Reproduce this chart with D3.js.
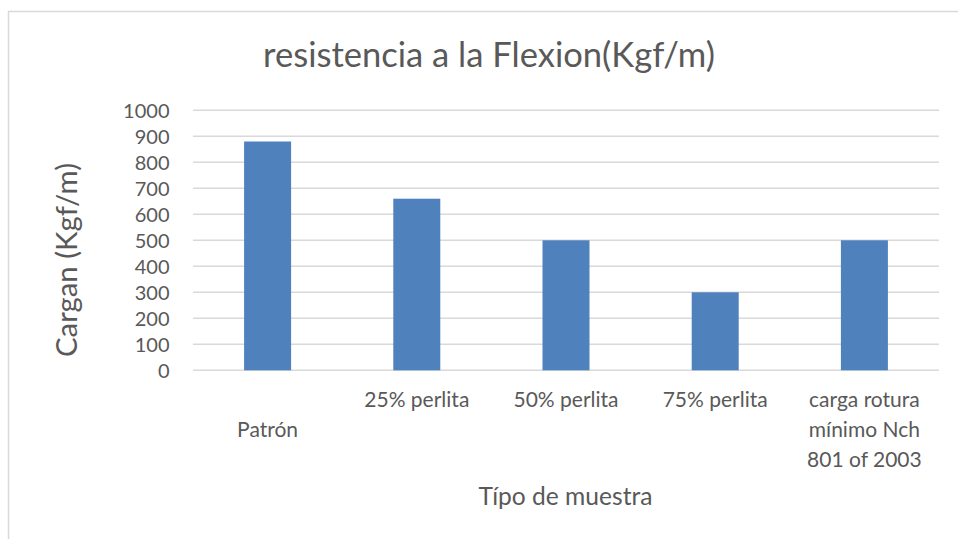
<!DOCTYPE html>
<html>
<head>
<meta charset="utf-8">
<script src="https://cdn.jsdelivr.net/npm/d3@7"></script>
<style>
  html, body { margin: 0; padding: 0; background: #fff; }
  svg { display: block; font-family: Lato, "Open Sans", sans-serif; }
</style>
</head>
<body>
<div id="chart"></div>
<script>
// data
var categories = ["Patrón", "25% perlita", "50% perlita", "75% perlita", "carga rotura mínimo Nch 801 of 2003"];
var values = [880, 660, 500, 300, 500];
// wrapped label lines (first one sits on the second line in the original)
var labelLines = [["", "Patrón"], ["25% perlita"], ["50% perlita"], ["75% perlita"], ["carga rotura", "mínimo Nch", "801 of 2003"]];
var yTicks = [0, 100, 200, 300, 400, 500, 600, 700, 800, 900, 1000];
var title = "resistencia a la Flexion(Kgf/m)";
var xTitle = "Típo de muestra";
var yTitle = "Cargan (Kgf/m)";

var width = 958, height = 539;
var textColor = "#595959", gridColor = "#d9d9d9", barColor = "#4f81bd";

var svg = d3.select("#chart").append("svg")
    .attr("width", width)
    .attr("height", height);

// chart frame (only top and left edges fall inside the picture)
svg.append("rect")
    .attr("x", 8.5).attr("y", 11.5)
    .attr("width", width + 20).attr("height", height + 20)
    .attr("fill", "#fff")
    .attr("stroke", gridColor)
    .attr("stroke-width", 1.5);

var plot = {left: 193, right: 939, top: 110.3, bottom: 370.3};

var x = d3.scaleBand()
    .domain(categories)
    .range([plot.left, plot.right])
    .paddingInner(0.685)
    .paddingOuter(0.3425);

var y = d3.scaleLinear()
    .domain([0, 1000])
    .range([plot.bottom, plot.top]);

// fit a text element's font size so it spans the target width
function fit(sel, target, base) {
  sel.style("font-size", base + "px");
  var w = sel.node().getComputedTextLength();
  sel.style("font-size", (base * target / w) + "px");
  return sel;
}

// gridlines
svg.append("g")
  .selectAll("line")
  .data(yTicks)
  .join("line")
    .attr("x1", plot.left).attr("x2", plot.right)
    .attr("y1", function(d) { return y(d); })
    .attr("y2", function(d) { return y(d); })
    .attr("stroke", gridColor)
    .attr("stroke-width", 1.5);

// y axis labels
var yAxis = svg.append("g")
    .attr("transform", "translate(169.5,0)")
    .call(d3.axisLeft(y).tickValues(yTicks).tickFormat(d3.format("d")).tickSize(0).tickPadding(0));
yAxis.select(".domain").remove();
yAxis.selectAll("text")
    .attr("fill", textColor)
    .attr("dy", "0.36em")
    .style("font-family", "Lato")
    .style("font-size", "20px");

// bars
svg.append("g")
  .selectAll("rect")
  .data(values)
  .join("rect")
    .attr("x", function(d, i) { return x(categories[i]); })
    .attr("width", x.bandwidth())
    .attr("y", function(d) { return y(d); })
    .attr("height", function(d) { return y(0) - y(d); })
    .attr("fill", barColor);

// category labels
var cat = svg.append("g");
labelLines.forEach(function(lines, i) {
  var cx = x(categories[i]) + x.bandwidth() / 2;
  lines.forEach(function(line, j) {
    if (!line) return;
    cat.append("text")
        .attr("x", cx)
        .attr("y", 406.7 + j * 30)
        .attr("text-anchor", "middle")
        .attr("fill", textColor)
        .style("font-size", "21px")
        .text(line);
  });
});

// titles
fit(svg.append("text")
    .attr("x", 489).attr("y", 66.7)
    .attr("text-anchor", "middle")
    .attr("fill", textColor)
    .text(title), 452, 30);

fit(svg.append("text")
    .attr("x", 565.5).attr("y", 505)
    .attr("text-anchor", "middle")
    .attr("fill", textColor)
    .text(xTitle), 174, 20);

fit(svg.append("text")
    .attr("transform", "translate(76.7,260) rotate(-90)")
    .attr("text-anchor", "middle")
    .attr("fill", textColor)
    .text(yTitle), 194, 24);
</script>
</body>
</html>
